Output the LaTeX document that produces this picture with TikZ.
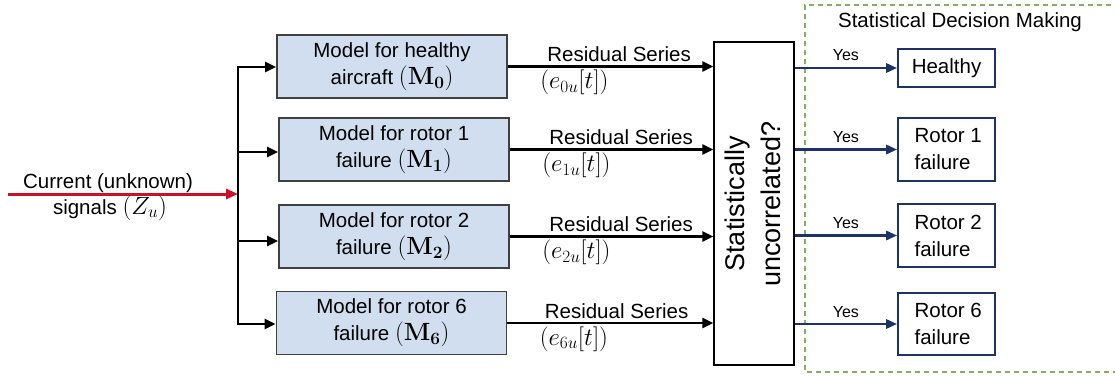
\documentclass[tikz,border=0pt]{standalone}
\usepackage[no-math]{fontspec}
\setmainfont{Liberation Sans}
\usetikzlibrary{arrows.meta,calc}
\definecolor{modelfill}{RGB}{208,222,240}
\definecolor{modeldraw}{RGB}{64,64,64}
\definecolor{navy}{RGB}{28,50,104}
\definecolor{sigred}{RGB}{204,16,40}
\definecolor{dmgreen}{RGB}{128,176,96}
% inline formulas set a little larger than the surrounding text
\newcommand\eqtxt[1]{{\fontsize{23.5}{27}\selectfont$#1$}}
\begin{document}
\begin{tikzpicture}[x=1pt,y=-1pt,
  txt/.style={font=\fontsize{20.5}{27}\selectfont},
  modelbox/.style={draw=modeldraw, fill=modelfill, line width=1.6pt,
    minimum width=230pt, minimum height=63pt, inner sep=0pt,
    align=center, txt},
  outbox/.style={draw=navy, fill=white, line width=1.6pt,
    minimum width=97pt, inner sep=0pt, align=left, txt},
  flow/.style={line width=2.5pt, -{Triangle[length=11pt,width=10pt]}},
  yesflow/.style={navy, line width=2.8pt, -{Triangle[length=11pt,width=9pt]}},
  yeslabel/.style={anchor=base, yshift=7pt, font=\fontsize{16}{19}\selectfont, text=black},
  reslabel/.style={anchor=base west, txt},
]
\useasboundingbox (0,0) rectangle (1115,377);

% decision-making region
\draw[dmgreen, line width=1.8pt, dash pattern=on 5pt off 4pt]
  (1120,5) -- (805,5) -- (805,372) -- (1120,372);
\node[txt] (dmtitle) at (960,22) {Statistical Decision Making};

% model bank
\node[modelbox] (m0) at (392,66.5) {Model for healthy\\aircraft \eqtxt{(\mathbf{M_0})}};
\node[modelbox] (m1) at (394,149.5) {Model for rotor 1\\failure \eqtxt{(\mathbf{M_1})}};
\node[modelbox] (m2) at (394,236.5) {Model for rotor 2\\failure \eqtxt{(\mathbf{M_2})}};
\node[modelbox] (m6) at (391.5,323) {Model for rotor 6\\failure \eqtxt{(\mathbf{M_6})}};

% test block
\node[draw=black, fill=white, line width=1.3pt, minimum width=80pt,
  minimum height=323pt, inner sep=0pt] (stat) at (754,203.5) {};
\node[rotate=90, align=center, font=\fontsize{27}{36}\selectfont] (stattext)
  at (753,204) {Statistically\\uncorrelated?};

% outcomes
\node[outbox, minimum height=38pt, align=center] (h) at (946.5,68) {Healthy};
\node[outbox, minimum height=63pt] (r1) at (946.5,149.5) {\,Rotor 1\\\,failure};
\node[outbox, minimum height=63pt] (r2) at (946.5,235.5) {\,Rotor 2\\\,failure};
\node[outbox, minimum height=62pt] (r6) at (946.5,324) {\,Rotor 6\\\,failure};

% input signal and distribution bus
\coordinate (src) at (8,194);
\coordinate (b0) at (238,67);
\coordinate (b1) at (238,152);
\coordinate (b2) at (238,241);
\coordinate (b3) at (238,324);
\draw[line width=2.5pt, line cap=rect] (b0) -- (b3);
\draw[sigred, line width=3pt, -{Triangle[length=12pt,width=10pt]}] (src) -- (src -| b0);
\node[txt] (cur) at (108,183) {Current (unknown)};
\node[txt] (sig) at (110,208) {signals \eqtxt{(Z_u)}};

\draw[flow] (b0) -- (b0 -| m0.west);
\draw[flow] (b1) -- (b1 -| m1.west);
\draw[flow] (b2) -- (b2 -| m2.west);
\draw[flow] (b3) -- (b3 -| m6.west);

% residual series
\draw[flow] (m0.east) -- (m0.east -| stat.west);
\draw[flow] (m1.east) -- (m1.east -| stat.west);
\draw[flow] (m2.east) -- (m2.east -| stat.west);
\draw[flow] (m6.east) -- (m6.east -| stat.west);
\node[reslabel] (rs0) at ($(m0.east)+(36,-5)$) {Residual Series};
\node[reslabel] (re0) at ($(m0.east)+(29,22)$) {\eqtxt{(e_{0u}[t])}};
\node[reslabel] (rs1) at ($(m1.east)+(36,-5)$) {Residual Series};
\node[reslabel] (re1) at ($(m1.east)+(29,22)$) {\eqtxt{(e_{1u}[t])}};
\node[reslabel] (rs2) at ($(m2.east)+(36,-5)$) {Residual Series};
\node[reslabel] (re2) at ($(m2.east)+(29,22)$) {\eqtxt{(e_{2u}[t])}};
\node[reslabel] (rs6) at ($(m6.east)+(34,-5)$) {Residual Series};
\node[reslabel] (re6) at ($(m6.east)+(29,22)$) {\eqtxt{(e_{6u}[t])}};

% decisions
\draw[yesflow] (h.west -| stat.east) -- node[yeslabel] (y0) {Yes} (h.west);
\draw[yesflow] (r1.west -| stat.east) -- node[yeslabel] (y1) {Yes} (r1.west);
\draw[yesflow] (r2.west -| stat.east) -- node[yeslabel] (y2) {Yes} (r2.west);
\draw[yesflow] (r6.west -| stat.east) -- node[yeslabel] (y6) {Yes} (r6.west);
\end{tikzpicture}
\end{document}
